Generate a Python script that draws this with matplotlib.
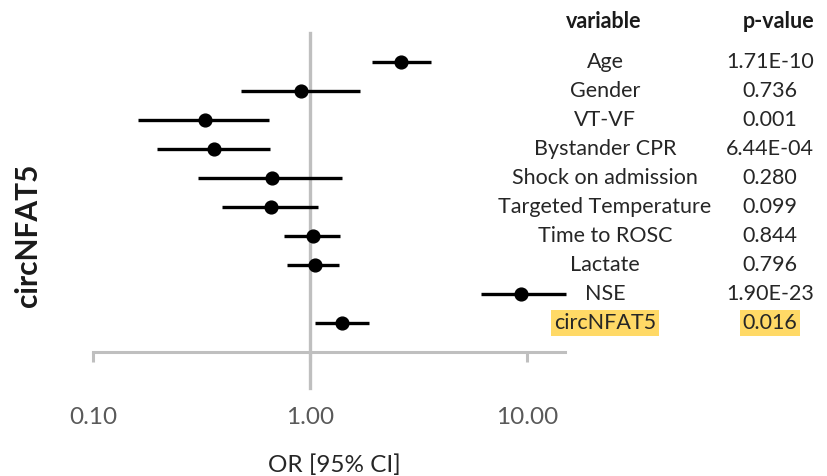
import matplotlib
matplotlib.use("Agg")
import matplotlib.pyplot as plt
import matplotlib.transforms as mtransforms
import numpy as np

variables = ["Age", "Gender", "VT-VF", "Bystander CPR", "Shock on admission",
             "Targeted Temperature", "Time to ROSC", "Lactate", "NSE", "circNFAT5"]
odds_ratio = [2.62, 0.906, 0.328, 0.361, 0.666, 0.659, 1.035, 1.05, 9.35, 1.41]
ci_low = [1.94, 0.481, 0.162, 0.197, 0.306, 0.392, 0.762, 0.781, 6.12, 1.05]
ci_high = [3.61, 1.70, 0.647, 0.654, 1.41, 1.09, 1.38, 1.36, 15.1, 1.88]
p_values = ["1.71E-10", "0.736", "0.001", "6.44E-04", "0.280",
            "0.099", "0.844", "0.796", "1.90E-23", "0.016"]
x_ticks = [0.1, 1.0, 10.0]
x_ticklabels = ["0.10", "1.00", "10.00"]

plt.rcParams['font.family'] = ['Lato', 'DejaVu Sans']

W, H = 827, 476
fig = plt.figure(figsize=(W / 100, H / 100), dpi=100)

def fx(px):
    return px / W

def fy(py):
    return 1 - py / H

ax_left, ax_right, ax_top, ax_bottom = 93, 565, 33, 352
ax = fig.add_axes([fx(ax_left), fy(ax_bottom), fx(ax_right - ax_left), (ax_bottom - ax_top) / H])
ax.set_xscale("log")
ax.set_xlim(0.1, 10 ** (1 + (565 - 527) / 217))
n = len(variables)
ax.set_ylim(0, n + 1)
ypos = np.arange(n, 0, -1)

axis_gray = "#BFBFBF"
for s in ["top", "right", "left"]:
    ax.spines[s].set_visible(False)
ax.spines["bottom"].set_color(axis_gray)
ax.spines["bottom"].set_linewidth(2.2)
ax.set_yticks([])
ax.set_xticks(x_ticks)
ax.set_xticklabels([])
ax.minorticks_off()
ax.tick_params(axis="x", direction="out", length=7, width=2.2, color=axis_gray)

# vertical reference line at OR = 1
ax.plot([1, 1], [-1.25, n + 1], color=axis_gray, lw=2.4, clip_on=False, zorder=1)

ax.hlines(ypos, ci_low, ci_high, color="black", lw=2.4, zorder=3, clip_on=False)
ax.plot(odds_ratio, ypos, "o", color="black", ms=9.2, zorder=4, clip_on=False)

# tick labels
for xv, lab in zip(x_ticks, x_ticklabels):
    ax.text(xv, -(418 - 352) / 29.0, lab, ha="center", va="center", fontsize=17.5, color="#595959",
            transform=ax.transData, clip_on=False)

fig.text(fx(334), fy(465), "OR [95% CI]", ha="center", va="center", fontsize=17.5, color="#262626")
fig.text(fx(28), fy(235), "circNFAT5", ha="center", va="center", fontsize=21.5,
         fontweight="bold", rotation=90, color="#1a1a1a")

trans = mtransforms.blended_transform_factory(fig.transFigure, ax.transData)
var_x = fx(605)
p_x = fx(770)
fig.text(fx(604), fy(21), "variable", ha="center", va="center", fontsize=15.5, fontweight="bold", color="#1a1a1a")
fig.text(fx(779), fy(21), "p-value", ha="center", va="center", fontsize=15.5, fontweight="bold", color="#1a1a1a")
highlight = "#FFD966"
for i, (v, p) in enumerate(zip(variables, p_values)):
    kw = dict(ha="center", va="center", fontsize=15.5, color="#262626", transform=trans)
    if v == "circNFAT5":
        kw["bbox"] = dict(boxstyle="square,pad=0.12", fc=highlight, ec="none")
    ax.text(var_x, ypos[i], v, **kw)
    ax.text(p_x, ypos[i], p, **kw)

fig.savefig("out.png", dpi=100)
